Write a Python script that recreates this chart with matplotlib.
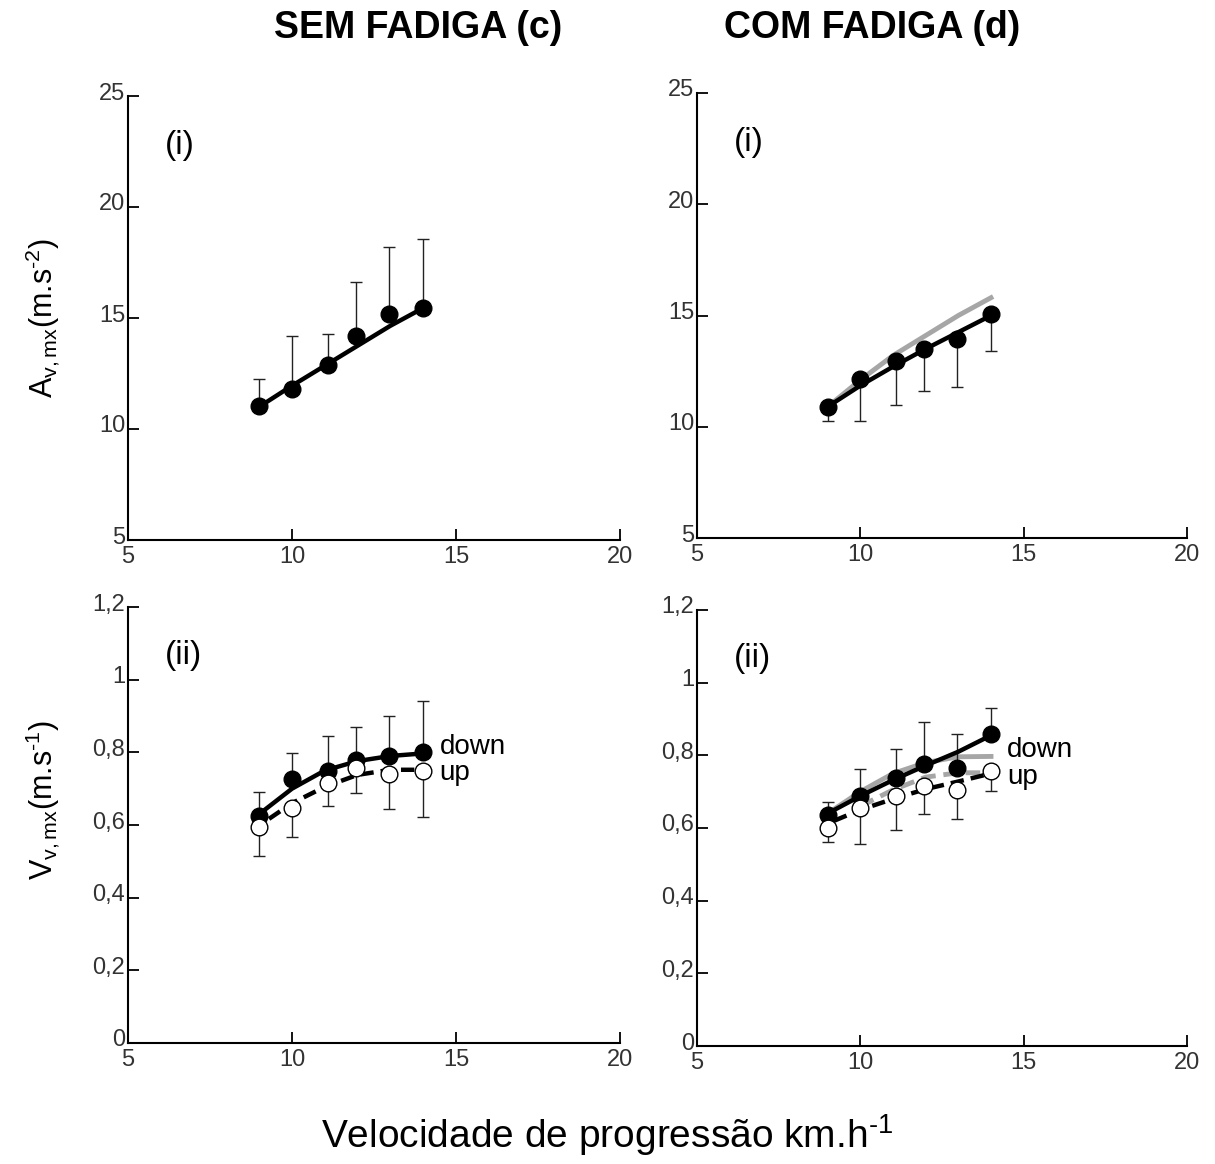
import matplotlib
matplotlib.use("Agg")
import matplotlib.pyplot as plt
import matplotlib.transforms as mtransforms

plt.rcParams['font.family'] = ['Liberation Sans', 'DejaVu Sans']
plt.rcParams['mathtext.fontset'] = 'custom'
plt.rcParams['mathtext.rm'] = 'Liberation Sans'
plt.rcParams['mathtext.it'] = 'Liberation Sans'

W, H = 1215, 1164

# ---- data ----
vel = [9.0, 10.0, 11.1, 11.95, 12.95, 14.0]
fit_x = [9, 10, 11, 12, 13, 14]

# (c) sem fadiga - aceleracao
acc_c = [11.05, 11.8, 12.9, 14.2, 15.2, 15.45]
acc_c_err = [1.2, 2.4, 1.4, 2.4, 3.0, 3.1]
acc_c_fit = [11.0, 11.95, 12.85, 13.75, 14.65, 15.45]

# (d) com fadiga - aceleracao
acc_d = [10.9, 12.15, 12.95, 13.5, 13.95, 15.05]
acc_d_err = [0.65, 1.9, 1.95, 1.9, 2.15, 1.65]
acc_d_fit = [10.9, 11.85, 12.7, 13.5, 14.25, 15.0]
acc_d_ref = [10.9, 12.1, 13.2, 14.1, 15.0, 15.8]

# (c) sem fadiga - velocidade vertical
down_c = [0.625, 0.727, 0.75, 0.78, 0.79, 0.80]
down_c_err = [0.065, 0.07, 0.095, 0.09, 0.11, 0.14]
up_c = [0.595, 0.648, 0.716, 0.758, 0.74, 0.748]
up_c_err = [0.08, 0.08, 0.065, 0.07, 0.095, 0.125]
down_c_fit = [0.63, 0.70, 0.75, 0.776, 0.79, 0.797]
up_fit_x = [9.3, 10, 11, 12, 13, 14]
up_c_fit = [0.617, 0.66, 0.705, 0.738, 0.752, 0.752]

# (d) com fadiga - velocidade vertical
down_d = [0.636, 0.689, 0.738, 0.777, 0.766, 0.86]
down_d_err = [0.036, 0.074, 0.08, 0.116, 0.094, 0.07]
up_d = [0.60, 0.655, 0.689, 0.716, 0.705, 0.758]
up_d_err = [0.038, 0.099, 0.094, 0.077, 0.08, 0.056]
down_d_fit = [0.64, 0.688, 0.732, 0.772, 0.81, 0.855]
up_d_fit_x = [9.2, 10, 11, 12, 13, 14]
up_d_fit = [0.62, 0.65, 0.68, 0.707, 0.728, 0.75]
down_d_ref = [0.64, 0.70, 0.75, 0.78, 0.796, 0.797]
up_d_ref_x = [10, 11, 12, 13, 14]
up_d_ref = [0.66, 0.705, 0.74, 0.752, 0.752]

xticks = [5, 10, 15, 20]
acc_ticks = [5, 10, 15, 20, 25]
vel_ticks = [0, 0.2, 0.4, 0.6, 0.8, 1.0, 1.2]
vel_ticklabels = ['0', '0,2', '0,4', '0,6', '0,8', '1', '1,2']

GRAY = '#a6a6a6'
DASH = (0, (3, 1.6))


def make_ax(fig, x0, y0, x1, y1):
    ax = fig.add_axes([x0 / W, 1 - y1 / H, (x1 - x0) / W, (y1 - y0) / H])
    ax.spines['top'].set_visible(False)
    ax.spines['right'].set_visible(False)
    for s in ['left', 'bottom']:
        ax.spines[s].set_linewidth(1.5)
    ax.tick_params(direction='in', length=8, width=1.3, labelsize=17,
                   labelcolor='#333333')
    ax.tick_params(axis='y', pad=2)
    ax.tick_params(axis='x', pad=4)
    ax.set_xlim(5, 20)
    ax.set_xticks(xticks)
    return ax


def lift_ylabels(fig, ax):
    # y tick labels sit a little above their ticks in the original
    off = mtransforms.ScaledTranslation(0, 5 / 100, fig.dpi_scale_trans)
    for lab in ax.get_yticklabels():
        lab.set_transform(lab.get_transform() + off)


def points(ax, y, err, filled, upper):
    yerr = [[0] * len(err), err] if upper else [err, [0] * len(err)]
    ax.errorbar(vel, y, yerr=yerr, fmt='none', ecolor='#222222',
                elinewidth=1.0, capsize=4, capthick=1.0, zorder=2)
    if filled:
        ax.plot(vel, y, 'o', ms=12, mfc='black', mec='black', zorder=5)
    else:
        ax.plot(vel, y, 'o', ms=12, mfc='white', mec='black', mew=1.0, zorder=5)


fig = plt.figure(figsize=(W / 100, H / 100), dpi=100)

# top-left
ax1 = make_ax(fig, 128, 96, 620, 540)
ax1.set_ylim(5, 25)
ax1.set_yticks(acc_ticks)
ax1.plot(fit_x, acc_c_fit, color='black', lw=3.2, zorder=3)
points(ax1, acc_c, acc_c_err, True, True)
ax1.text(0.075, 0.87, '(i)', transform=ax1.transAxes, fontsize=24)

# top-right
ax2 = make_ax(fig, 697, 93, 1187, 538)
ax2.set_ylim(5, 25)
ax2.set_yticks(acc_ticks)
ax2.plot(fit_x, acc_d_ref, color=GRAY, lw=3.5, zorder=2)
ax2.plot(fit_x, acc_d_fit, color='black', lw=3.2, zorder=3)
points(ax2, acc_d, acc_d_err, True, False)
ax2.text(0.075, 0.87, '(i)', transform=ax2.transAxes, fontsize=24)

# bottom-left
ax3 = make_ax(fig, 128, 607, 620, 1043)
ax3.set_ylim(0, 1.2)
ax3.set_yticks(vel_ticks)
ax3.set_yticklabels(vel_ticklabels)
ax3.plot(fit_x, down_c_fit, color='black', lw=3.2, zorder=3)
ax3.plot(up_fit_x, up_c_fit, color='black', lw=3.2, ls=DASH, zorder=3)
points(ax3, down_c, down_c_err, True, True)
points(ax3, up_c, up_c_err, False, False)
ax3.text(14.5, 0.815, 'down', fontsize=20, va='center')
ax3.text(14.5, 0.744, 'up', fontsize=20, va='center')
ax3.text(0.075, 0.87, '(ii)', transform=ax3.transAxes, fontsize=24)

# bottom-right
ax4 = make_ax(fig, 697, 610, 1187, 1046)
ax4.set_ylim(0, 1.2)
ax4.set_yticks(vel_ticks)
ax4.set_yticklabels(vel_ticklabels)
ax4.plot(fit_x, down_d_ref, color=GRAY, lw=3.5, zorder=2)
ax4.plot(up_d_ref_x, up_d_ref, color=GRAY, lw=3.5, ls=DASH, zorder=2)
ax4.plot(fit_x, down_d_fit, color='black', lw=3.2, zorder=3)
ax4.plot(up_d_fit_x, up_d_fit, color='black', lw=3.2, ls=DASH, zorder=3)
points(ax4, down_d, down_d_err, True, True)
points(ax4, up_d, up_d_err, False, False)
ax4.text(14.5, 0.815, 'down', fontsize=20, va='center')
ax4.text(14.5, 0.741, 'up', fontsize=20, va='center')
ax4.text(0.075, 0.87, '(ii)', transform=ax4.transAxes, fontsize=24)

for ax in (ax1, ax2, ax3, ax4):
    lift_ylabels(fig, ax)

# y labels
fig.text(43 / W, 1 - 318 / H, r'A$_{\mathregular{v,mx}}$(m.s$^{\mathregular{\text{-}2}}$)',
         fontsize=22, rotation=90, ha='center', va='center')
fig.text(43 / W, 1 - 800 / H, r'V$_{\mathregular{v,mx}}$(m.s$^{\mathregular{\text{-}1}}$)',
         fontsize=22, rotation=90, ha='center', va='center')

fig.text(418 / W, 1 - 28 / H, 'SEM FADIGA (c)', fontsize=27, fontweight='bold',
         ha='center', va='center')
fig.text(872 / W, 1 - 28 / H, 'COM FADIGA (d)', fontsize=27, fontweight='bold',
         ha='center', va='center')
fig.text(607 / W, 1 - 1135 / H, r'Velocidade de progressão km.h$^{\mathregular{\text{-}1}}$',
         fontsize=28, ha='center', va='center')

fig.savefig('out.png', dpi=100)
